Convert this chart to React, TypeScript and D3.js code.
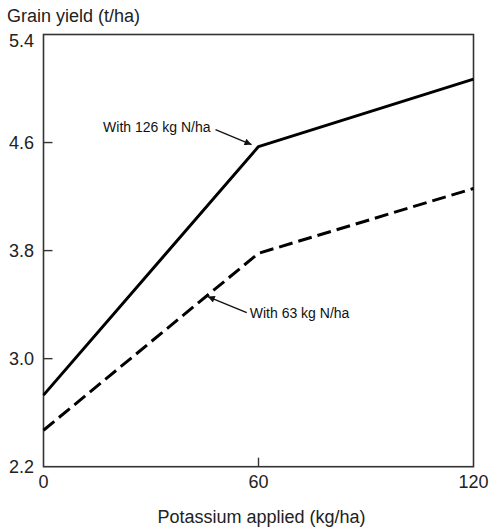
import React from "react";
import * as d3 from "d3";

const potassium = [0, 60, 120];
const yieldN126 = [2.73, 4.57, 5.07];
const yieldN63 = [2.47, 3.78, 4.26];
const yTicks = [2.2, 3.0, 3.8, 4.6, 5.4];
const xTicks = [0, 60, 120];

const W = 490, H = 530;
const m = { left: 43.5, right: 16.5, top: 34.5, bottom: 63.3 };

export default function App() {
  const x = d3.scaleLinear().domain([0, 120]).range([m.left, W - m.right]);
  const y = d3.scaleLinear().domain([2.2, 5.4]).range([H - m.bottom, m.top]);
  const line = d3.line<number>().x((_, i) => x(potassium[i])).y((d) => y(d));
  const font = "'Liberation Sans', Arial, Helvetica, sans-serif";
  const frame = "#333";

  // annotation anchors derived from data
  const p126 = [x(potassium[1]), y(yieldN126[1])];
  const ax63 = 45;
  const ay63 = yieldN63[0] + ((yieldN63[1] - yieldN63[0]) * ax63) / 60;
  const p63 = [x(ax63), y(ay63)];

  return (
    <svg width={W} height={H} style={{ position: "absolute", left: 0, top: 0, background: "#fff" }} fontFamily={font}>
      <defs>
        <marker id="ah" viewBox="0 0 10 10" refX="10" refY="5" markerWidth="10" markerHeight="7" orient="auto" markerUnits="userSpaceOnUse">
          <path d="M0,0 L10,5 L0,10 z" fill="#111" />
        </marker>
      </defs>
      <rect x={m.left} y={m.top} width={W - m.left - m.right} height={H - m.top - m.bottom} fill="none" stroke={frame} strokeWidth={1.6} />
      {yTicks.map((t) => (
        <g key={t}>
          {t > 2.2 && t < 5.4 && (
            <line x1={m.left} x2={m.left + 9} y1={y(t)} y2={y(t)} stroke={frame} strokeWidth={1.4} />
          )}
          <text x={34} y={t === 5.4 ? y(t) + 6 : y(t)} dy="0.36em" textAnchor="end" fontSize={18} fill="#222">
            {t.toFixed(1)}
          </text>
        </g>
      ))}
      {xTicks.map((t) => (
        <g key={t}>
          {t > 0 && t < 120 && (
            <line x1={x(t)} x2={x(t)} y1={y(2.2)} y2={y(2.2) - 9} stroke={frame} strokeWidth={1.4} />
          )}
          <text x={x(t)} y={488} textAnchor="middle" fontSize={18} fill="#222">
            {t}
          </text>
        </g>
      ))}
      <text x={7} y={22} fontSize={18} fill="#222">Grain yield (t/ha)</text>
      <text x={(m.left + W - m.right) / 2 + 3} y={523} textAnchor="middle" fontSize={18} fill="#222">
        Potassium applied (kg/ha)
      </text>
      <path d={line(yieldN126) || ""} fill="none" stroke="#000" strokeWidth={3} strokeLinejoin="round" />
      <path d={line(yieldN63) || ""} fill="none" stroke="#000" strokeWidth={3} strokeDasharray="14,6" />
      <text x={p126[0] - 48} y={p126[1] - 15} textAnchor="end" fontSize={14} fill="#111">
        With 126 kg N/ha
      </text>
      <line x1={p126[0] - 43} y1={p126[1] - 17} x2={p126[0] - 7} y2={p126[1] - 2} stroke="#111" strokeWidth={1.3} markerEnd="url(#ah)" />
      <text x={p63[0] + 45} y={p63[1] + 20} fontSize={14} fill="#111">
        With 63 kg N/ha
      </text>
      <line x1={p63[0] + 42} y1={p63[1] + 15} x2={p63[0] + 3} y2={p63[1] - 1} stroke="#111" strokeWidth={1.3} markerEnd="url(#ah)" />
    </svg>
  );
}
